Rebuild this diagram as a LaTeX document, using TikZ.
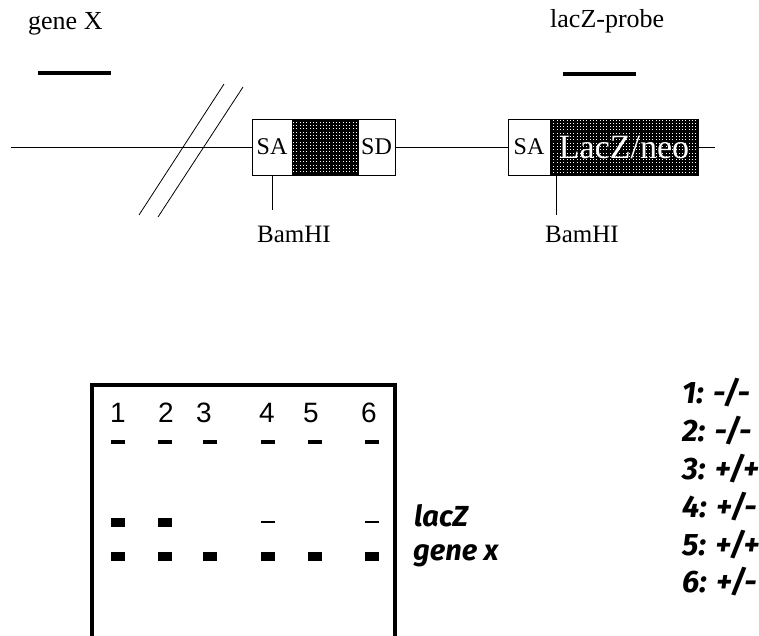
\documentclass[tikz,border=0pt]{standalone}
\usepackage{fontspec}
\setmainfont{Liberation Serif}
\newfontfamily\lanefont{Liberation Sans}
\newfontfamily\gelfont{Fira Sans}
\usetikzlibrary{positioning}

\begin{document}
\begin{tikzpicture}[
  x=1pt, y=-1pt,
  node distance=0pt,
  lbl/.style={font=\fontsize{26}{30}\selectfont, inner sep=0pt},
  seg/.style={draw, line width=0.8pt, minimum height=56pt, inner sep=0pt, outer sep=0pt, font=\fontsize{24}{28}\selectfont},
  dense/.style={seg, path picture={\draw[line width=2.3pt, step=3.3pt] (path picture bounding box.south west) grid (path picture bounding box.north east);}},
  dna/.style={line width=0.8pt},
  probe/.style={line width=4.5pt},
  well/.style={fill=black, minimum width=14pt, minimum height=4pt, inner sep=0pt},
  band/.style={well, minimum height=9pt},
  faint/.style={well, minimum height=2pt},
  gellbl/.style={font=\gelfont\bfseries\itshape\fontsize{29}{34}\selectfont, inner sep=0pt, anchor=west}
]
\useasboundingbox (0,0) rectangle (759,635);
\clip (0,0) rectangle (759,635);

% construct
\node[lbl, anchor=base west] (genex) at (28,29) {gene X};
\node[lbl, anchor=base west] (lzprobe) at (550,27) {lacZ-probe};
\draw[probe] (38,73) -- (111,73);
\draw[probe] (563,74) -- (636,74);

\node[seg, minimum width=40pt] (sa1) at (272,147) {SA};
\node[dense, minimum width=66pt, right=of sa1] (ex1) {};
\node[seg, minimum width=37pt, right=of ex1] (sd1) {SD};
\node[seg, minimum width=42pt] (sa2) at (529,147) {SA};
\node[dense, minimum width=148pt, right=of sa2, text=white, font=\fontsize{34}{38}\selectfont] (neo) {LacZ/neo};

\coordinate (l0) at (11,147);
\coordinate (l1) at (715,147);
\draw[dna] (l0) -- (sa1);
\draw[dna] (sd1) -- (sa2);
\draw[dna] (neo) -- (l1);

% break in the locus
\draw[dna] (139,215) -- (224,84);
\draw[dna] (158,217) -- (243,87);

\node[lbl, font=\fontsize{25}{29}\selectfont, anchor=north west] (bam1) at (257,226) {BamHI};
\node[lbl, font=\fontsize{25}{29}\selectfont, anchor=north west] (bam2) at (545,226) {BamHI};
\coordinate (cut1) at (272,210);
\coordinate (cut2) at (556,215);
\draw[dna] (sa1.south) -- (cut1);
\draw[dna] (cut2 |- neo.south) -- (cut2);

% southern blot
\draw[line width=3.5pt] (92,385) rectangle (395,660);
\foreach \n/\x in {1/118,2/166,3/204,4/267,5/311,6/369}
  \node[font=\lanefont\fontsize{28}{32}\selectfont, inner sep=0pt] (lane\n) at (\x,413) {\n};
\foreach \n/\x in {1/118,2/165,3/210,4/268,5/315,6/372}
  \node[well] (well\n) at (\x,442) {};
\foreach \n/\x in {1/118,2/165}
  \node[band] (lz\n) at (\x,522) {};
\foreach \n/\x in {4/268,6/372}
  \node[faint] (lz\n) at (\x,522) {};
\foreach \n/\x in {1/118,2/165,3/210,4/268,5/315,6/372}
  \node[band] (gx\n) at (\x,556) {};

\node[gellbl] (lacz) at (414,516) {lacZ};
\node[gellbl] (genx) at (413,556) {gene x};

\foreach \t [count=\i] in {{1: -/-},{2: -/-},{3: +/+},{4: +/-},{5: +/+},{6: +/-}}
  \node[gellbl, font=\gelfont\bfseries\itshape\fontsize{31}{36}\selectfont] (geno\i) at (682,{393+(\i-1)*37.8}) {\t};
\end{tikzpicture}
\end{document}
